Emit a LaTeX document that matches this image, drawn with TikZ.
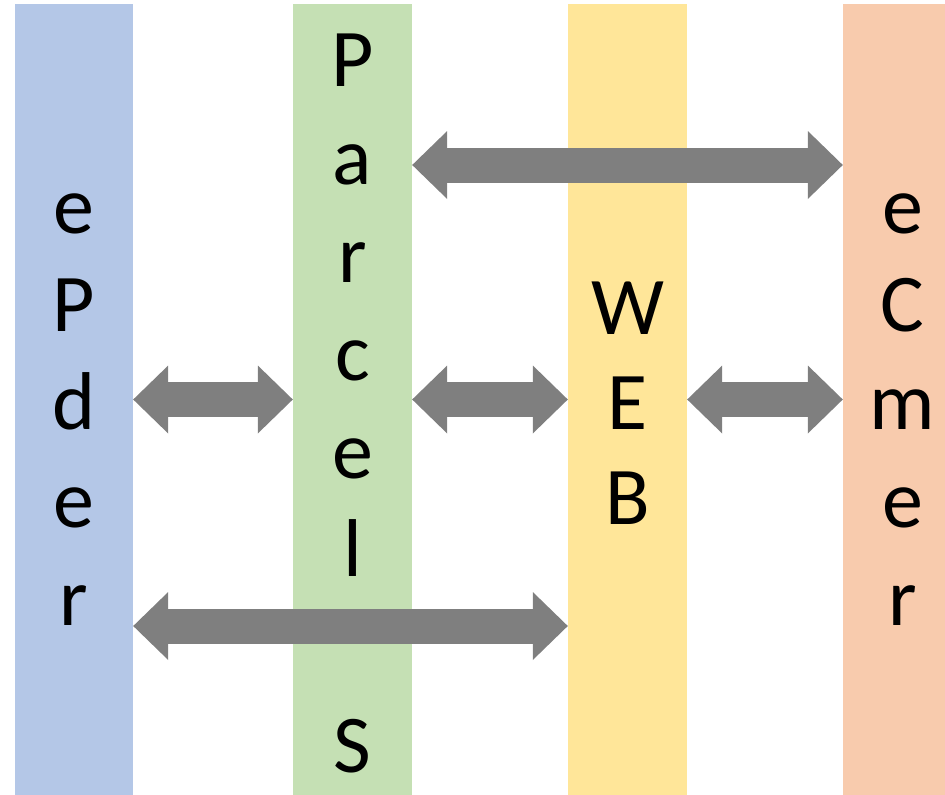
\documentclass[tikz,border=0pt]{standalone}
\usepackage{fontspec}
\setmainfont{Carlito}
\usetikzlibrary{arrows.meta}

\definecolor{bleu}{HTML}{B4C7E7}
\definecolor{vert}{HTML}{C5E0B4}
\definecolor{jaune}{HTML}{FFE699}
\definecolor{orange}{HTML}{F8CBAD}
\definecolor{gris}{HTML}{7F7F7F}

% strut: same line box for every letter
\newcommand{\vs}{\rule[-17pt]{0pt}{93pt}}

\begin{document}
\begin{tikzpicture}[
       x=1pt, y=-1pt,
       colonne/.style={
         rectangle,
         minimum width=119pt,
         minimum height=791pt,
         inner sep=0pt,
         align=center,
         font=\fontsize{82}{98}\selectfont
       },
       fleche/.style={
         line width=35pt,
         draw=gris,
         {Triangle[width=68pt,length=35pt,line width=0pt]}-{Triangle[width=68pt,length=35pt,line width=0pt]}
       }
     ]

       \useasboundingbox (0,0) rectangle (945,795);

       \node (epder) at (74,399.5) [colonne,fill=bleu,minimum width=118pt]{\vs e\\\vs P\\\vs d\\\vs e\\\vs r};
       \node (parcel) at (352.5,399.5) [colonne,fill=vert]{\vs P\\\vs a\\\vs r\\\vs c\\\vs e\\\vs l\\\vs\\\vs S};
       \node (web) at (627.5,399.5) [colonne,fill=jaune,font=\fontsize{82}{95}\selectfont]{\vs W\\\vs E\\\vs B};
       \node (ecmer) at (902.5,399.5) [colonne,fill=orange]{\vs e\\\vs C\\\vs m\\\vs e\\\vs r};

       \draw[fleche] (epder.east) -- (parcel.west);
       \draw[fleche] (parcel.east) -- (web.west);
       \draw[fleche] (web.east) -- (ecmer.west);

       \draw[fleche] ([yshift=234.5pt]parcel.east) -- ([yshift=234.5pt]ecmer.west);
       \draw[fleche] ([yshift=-226.5pt]epder.east) -- ([yshift=-226.5pt]web.west);

\end{tikzpicture}
\end{document}
